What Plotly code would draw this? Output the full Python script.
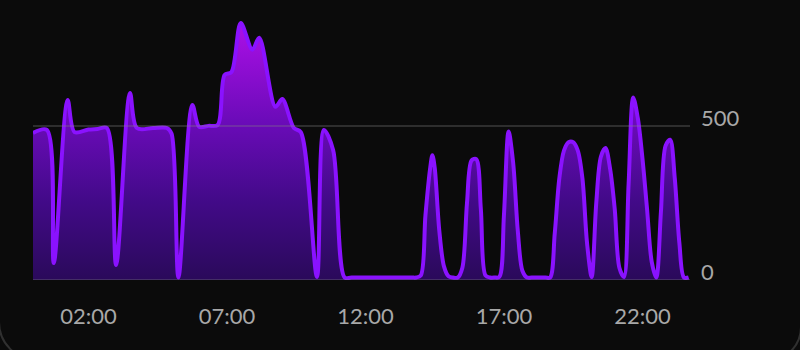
import plotly.graph_objects as go

DAY = "2024-01-01 "

# readings (time of day, value)
times = ["00:00", "00:30", "00:45", "01:15", "01:30", "02:00", "02:20", "02:40", "03:00",
         "03:30", "03:45", "04:20", "04:50", "05:00", "05:15", "05:45", "06:00", "06:20",
         "06:40", "06:55", "07:10", "07:30", "07:55", "08:10", "08:45", "09:00", "09:25",
         "09:40", "10:15", "10:30", "10:50", "11:15", "11:30", "13:40", "13:50",
         "14:00", "14:10", "14:20", "14:25", "14:30", "14:40", "14:50", "15:00", "15:10",
         "15:20", "15:30", "15:40", "15:50", "16:00", "16:10", "16:20", "16:30", "16:40",
         "16:50", "17:00", "17:10", "17:20", "17:30", "17:40", "17:50", "18:00",
         "18:30", "18:40", "18:50", "19:00", "19:10", "19:20", "19:30", "19:40", "19:50",
         "20:00", "20:10", "20:20", "20:30", "20:40", "20:50", "21:00", "21:10",
         "21:20", "21:30", "21:40", "21:50", "22:00", "22:10", "22:20",
         "22:30", "22:40", "22:50", "23:00", "23:10", "23:20", "23:30", "23:40"]
values = [477, 487, 55, 584, 480, 488, 490, 493, 49,
          607, 493, 493, 493, 475, 8, 568, 497, 500,
          503, 665, 675, 834, 747, 786, 562, 587, 493,
          480, 10, 487, 422, 8, 8, 8, 8,
          15, 210, 360, 405, 365, 160, 45, 12, 8,
          8, 40, 250, 388, 392, 230, 15, 8, 8,
          10, 210, 482, 380, 160, 30, 8, 8,
          8, 8, 150, 330, 420, 447, 447, 420, 330,
          120, 10, 250, 400, 428, 360, 230, 40,
          10, 310, 592, 525, 395, 230, 60,
          8, 220, 435, 455, 330, 120, 8, 8]

x_tick_labels = ["02:00", "07:00", "12:00", "17:00", "22:00"]
y_ticks = [0, 500]

x = [DAY + t for t in times]

LINE = "#8a12ff"
BG = "#0b0b0b"
FONT = "Lato"
TICK = "#a8a8a8"

fig = go.Figure()
fig.add_trace(go.Scatter(
    x=x, y=values, mode="lines",
    line=dict(color=LINE, width=4, shape="spline", smoothing=0.9),
    fill="tozeroy",
    fillgradient=dict(type="vertical", start=0, stop=850,
                      colorscale=[[0, "#2a0a5a"], [0.3, "#420a88"],
                                  [0.6, "#6a0bb8"], [1, "#b010ea"]]),
    hoverinfo="skip",
))

for v in y_ticks:
    fig.add_hline(y=v, line=dict(color="rgba(130,130,130,0.4)", width=1.5), layer="above")

fig.update_layout(
    width=800, height=350,
    margin=dict(l=33, r=110, t=18, b=70),
    paper_bgcolor=BG, plot_bgcolor=BG,
    showlegend=False,
    font=dict(family=FONT, color=TICK, size=22),
    xaxis=dict(
        type="date",
        range=[DAY + "00:00", DAY + "23:43"],
        tickvals=[DAY + t for t in x_tick_labels],
        ticktext=x_tick_labels,
        showgrid=False, zeroline=False, showline=False, ticks="",
        tickfont=dict(family=FONT, size=22, color=TICK),
        ticklabelstandoff=21,
        fixedrange=True,
    ),
    yaxis=dict(
        side="right",
        range=[0, 850],
        tickvals=y_ticks,
        showgrid=False, zeroline=False, showline=False, ticks="",
        tickfont=dict(family=FONT, size=22, color=TICK),
        ticklabelstandoff=10,
        ticklabelshift=-8,
        fixedrange=True,
    ),
)

# card frame rounded corners (decoration)
fig.add_shape(type="path", xref="paper", yref="paper", xsizemode="pixel", ysizemode="pixel",
              xanchor=0, yanchor=0,
              path="M-34,-20 L-34,-42 C-34,-63 -17,-80 4,-80 L60,-80",
              line=dict(color="#303030", width=2), layer="below")
fig.add_shape(type="path", xref="paper", yref="paper", xsizemode="pixel", ysizemode="pixel",
              xanchor=1, yanchor=0,
              path="M111,-20 L111,-47 C111,-65.8 95.8,-81 77,-81 L10,-81",
              line=dict(color="#303030", width=2), layer="below")

fig.write_html("out.html", config={"displayModeBar": False})
